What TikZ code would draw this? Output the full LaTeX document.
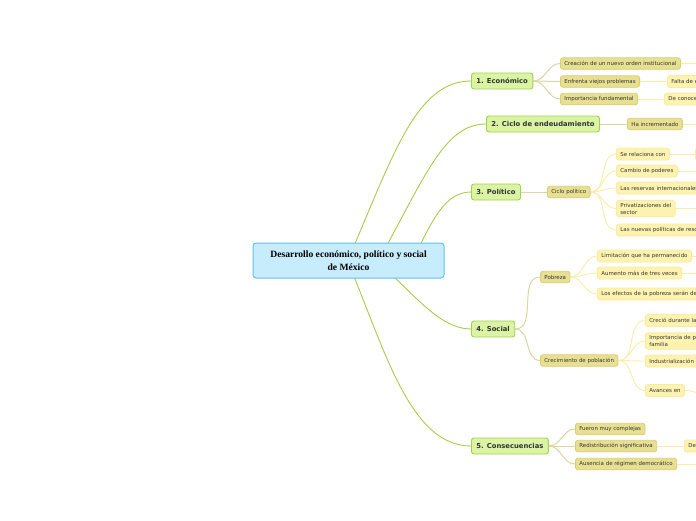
\documentclass[tikz,border=0pt]{standalone}
\usepackage{fontspec}
\setmainfont{DejaVu Sans}
\newfontfamily\centralfont{Liberation Serif}
\usetikzlibrary{backgrounds}
\definecolor{txt}{HTML}{333333}
\definecolor{cfill}{HTML}{C7ECFB}
\definecolor{cborder}{HTML}{62C2EC}
\definecolor{gfill}{HTML}{DAF4A4}
\definecolor{gborder}{HTML}{A4D14C}
\definecolor{ofill}{HTML}{E7E092}
\definecolor{oborder}{HTML}{D8CF72}
\definecolor{yfill}{HTML}{FDF3B0}
\definecolor{yborder}{HTML}{FCEB9E}
\definecolor{l1}{HTML}{A9CC4B}
\definecolor{l2}{HTML}{DCD6A0}
\definecolor{l3}{HTML}{FBEDA8}
\begin{document}
\begin{tikzpicture}[x=1pt,y=-1pt,
 base/.style={draw, rounded corners=2.5pt, text=txt, anchor=west},
 central/.style={draw=cborder, fill=cfill, line width=1pt, rounded corners=3pt, minimum width=191pt, minimum height=35pt, align=center, font=\centralfont\bfseries\fontsize{9.6}{12.5}\selectfont, text=black},
 mainbr/.style={base, draw=gborder, fill=gfill, line width=0.9pt, minimum height=16pt, inner xsep=5pt, inner ysep=0pt, font=\bfseries\fontsize{6.8}{8}\selectfont},
 sub/.style={base, draw=oborder, fill=ofill, line width=0.8pt, minimum height=11.5pt, inner xsep=4pt, inner ysep=0pt, font=\fontsize{5.45}{7}\selectfont},
 leaf/.style={base, draw=yborder, fill=yfill, line width=0.8pt, minimum height=12pt, inner xsep=4pt, inner ysep=0pt, font=\fontsize{5.45}{7}\selectfont},
 cut/.style={text width=100pt, align=left},
 two/.style={align=left, inner ysep=2.5pt},
 lk1/.style={draw=l1, line width=0.9pt},
 lk2/.style={draw=l2, line width=1pt},
 lk3/.style={draw=l3, line width=0.9pt},
]
\useasboundingbox (0,0) rectangle (696,520);
\clip (0,0) rectangle (696,520);

% central
\node[central] (c) at (348.5,260.5) {Desarrollo económico, político y social\\de México};
\coordinate (s1) at (347,262);
\coordinate (s2) at (378,262);
\coordinate (s3) at (412,262);
\coordinate (s4) at (378,262);
\coordinate (s5) at (348,262);

% main branches
\node[mainbr] (e1) at (471,81) {1. Económico};
\node[mainbr] (e2) at (486,124) {2. Ciclo de endeudamiento};
\node[mainbr] (e3) at (471,192) {3. Político};
\node[mainbr] (e4) at (471,329) {4. Social};
\node[mainbr] (e5) at (471,446) {5. Consecuencias};

% level 2
\node[sub] (a1) at (560,63.5) {Creación de un nuevo orden institucional};
\node[sub] (a2) at (560,81.5) {Enfrenta viejos problemas};
\node[sub] (a3) at (560,99) {Importancia fundamental};
\node[sub] (b1) at (627,124) {Ha incrementado};
\node[sub] (c1) at (547,192) {Ciclo político};
\node[sub] (d1) at (540,277) {Pobreza};
\node[sub] (d2) at (540,360.5) {Crecimiento de población};
\node[sub] (f1) at (575,429) {Fueron muy complejas};
\node[sub] (f2) at (575,446) {Redistribución significativa};
\node[sub] (f3) at (575,464) {Ausencia de régimen democrático};

% level 3
\node[leaf,cut] (a2x) at (667,81.5) {Falta de e};
\node[leaf,cut] (a3x) at (664,99) {De conoce};
\node[leaf] (c2) at (616,154) {Se relaciona con};
\node[leaf,minimum width=40pt] (c2x) at (695,154) {};
\node[leaf] (c3) at (616,171) {Cambio de poderes};
\node[leaf,cut] (c4) at (616,188) {Las reservas internacionales};
\node[leaf,two] (c5) at (616,208.5) {Privatizaciones del\\sector};
\node[leaf,cut] (c6) at (616,230) {Las nuevas políticas de reso};
\node[leaf] (d3) at (597,256) {Limitación que ha permanecido};
\node[leaf] (d4) at (597,273) {Aumento más de tres veces};
\node[leaf,cut] (d5) at (597,294) {Los efectos de la pobreza serán de};
\node[leaf,cut] (d6) at (645,320.5) {Creció durante la};
\node[leaf,cut,two] (d7) at (645,341) {Importancia de p\\familia};
\node[leaf,cut] (d8) at (645,361) {Industrialización};
\node[leaf] (d9) at (645,390.5) {Avances en};
\node[leaf,cut] (f2x) at (684,446) {De};

% free ends off the picture
\coordinate (o1) at (720,63.5);
\coordinate (o2) at (720,124);
\coordinate (o3) at (720,171);
\coordinate (o4) at (720,208.5);
\coordinate (o5) at (720,256);
\coordinate (o6) at (720,273);
\coordinate (o7) at (735,410);
\coordinate (o8) at (720,464);

\begin{pgfonlayer}{background}
\fill[white] (0,0) rectangle (696,520);
\draw[lk1] (s1) .. controls (392,159) and (415,81) .. (e1.west);
\draw[lk1] (s2) .. controls (426,174) and (445,124) .. (e2.west);
\draw[lk1] (s3) .. controls (432,220) and (445,192) .. (e3.west);
\draw[lk1] (s4) .. controls (415,295) and (440,329) .. (e4.west);
\draw[lk1] (s5) .. controls (385,350) and (410,446) .. (e5.west);

\draw[lk2] (e1.east) to[out=0,in=180] (a1.west);
\draw[lk2] (e1.east) -- (a2.west);
\draw[lk2] (e1.east) to[out=0,in=180] (a3.west);
\draw[lk2] (e2.east) -- (b1.west);
\draw[lk2] (e3.east) -- (c1.west);
\draw[lk2] (e4.east) to[out=0,in=180] (d1.west);
\draw[lk2] (e4.east) to[out=0,in=180] (d2.west);
\draw[lk2] (e5.east) to[out=0,in=180] (f1.west);
\draw[lk2] (e5.east) -- (f2.west);
\draw[lk2] (e5.east) to[out=0,in=180] (f3.west);

\draw[lk3] (a1.east) -- (o1);
\draw[lk3] (a2.east) -- (a2x.west);
\draw[lk3] (a3.east) -- (a3x.west);
\draw[lk3] (b1.east) -- (o2);
\foreach \t in {c2,c3,c4,c5,c6}
  \draw[lk3] (c1.east) to[out=0,in=180] (\t.west);
\draw[lk3] (c2.east) -- (c2x.west);
\draw[lk3] (c3.east) -- (o3);
\draw[lk3] (c5.east) -- (o4);
\foreach \t in {d3,d4,d5}
  \draw[lk3] (d1.east) to[out=0,in=180] (\t.west);
\draw[lk3] (d3.east) -- (o5);
\draw[lk3] (d4.east) -- (o6);
\foreach \t in {d6,d7,d8,d9}
  \draw[lk3] (d2.east) to[out=0,in=180] (\t.west);
\draw[lk3] (d9.east) to[out=0,in=180] (o7);
\draw[lk3] (f2.east) -- (f2x.west);
\draw[lk3] (f3.east) -- (o8);
\end{pgfonlayer}
\end{tikzpicture}
\end{document}
